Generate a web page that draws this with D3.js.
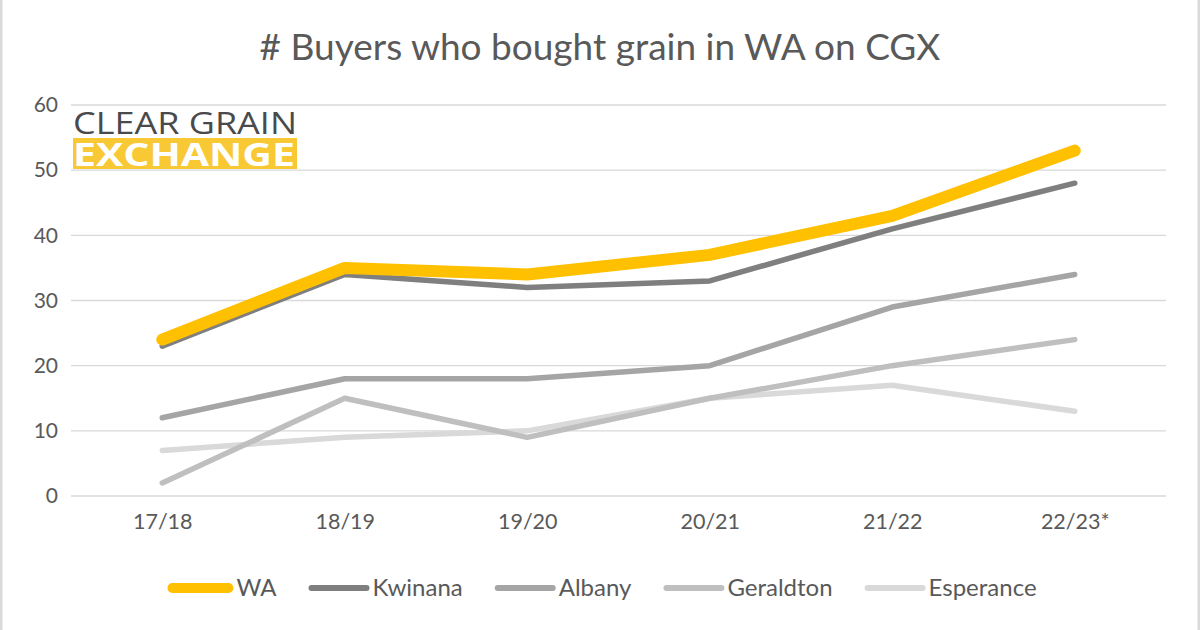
<!DOCTYPE html>
<html><head><meta charset="utf-8">
<script src="https://cdn.jsdelivr.net/npm/d3@7"></script>
<style>
html,body{margin:0;padding:0;background:#fff;}
svg{display:block;}
</style></head>
<body>
<svg id="chart" width="1200" height="630"></svg>
<script>
const categories = ["17/18","18/19","19/20","20/21","21/22","22/23*"];
const seriesNames = ["WA","Kwinana","Albany","Geraldton","Esperance"];
const waValues = [24, 35, 34, 37, 43, 53];
const kwinanaValues = [23, 34, 32, 33, 41, 48];
const albanyValues = [12, 18, 18, 20, 29, 34];
const geraldtonValues = [2, 15, 9, 15, 20, 24];
const esperanceValues = [7, 9, 10, 15, 17, 13];
const yTicks = [0, 10, 20, 30, 40, 50, 60];
const titleText = "# Buyers who bought grain in WA on CGX";

const series = [
  {name: seriesNames[0], values: waValues, color: "#FFC000", width: 12},
  {name: seriesNames[1], values: kwinanaValues, color: "#7F7F7F", width: 5.5},
  {name: seriesNames[2], values: albanyValues, color: "#A5A5A5", width: 5.5},
  {name: seriesNames[3], values: geraldtonValues, color: "#BFBFBF", width: 5.5},
  {name: seriesNames[4], values: esperanceValues, color: "#D9D9D9", width: 5.5}
];

const svg = d3.select("#chart");
const W = 1200, H = 630;
const font = "Lato, 'Open Sans', sans-serif";
const textColor = "#595959";

// border
svg.append("rect").attr("x",1).attr("y",-2).attr("width",W-2).attr("height",H+4)
  .attr("fill","#fff").attr("stroke","#d9d9d9").attr("stroke-width",3);

const plot = {left: 71, right: 1166, top: 105, bottom: 496};
const x = d3.scalePoint().domain(categories).range([plot.left, plot.right]).padding(0.5);
const y = d3.scaleLinear().domain([0, 60]).range([plot.bottom, plot.top]);

// gridlines
svg.append("g").selectAll("line").data(yTicks).join("line")
  .attr("x1", plot.left).attr("x2", plot.right)
  .attr("y1", d => y(d)).attr("y2", d => y(d))
  .attr("stroke", "#d9d9d9").attr("stroke-width", 1.3);

// y axis
const yAxis = svg.append("g").attr("transform", `translate(${plot.left - 13},0)`)
  .call(d3.axisLeft(y).tickValues(yTicks).tickSize(0).tickPadding(0));
yAxis.select(".domain").remove();
yAxis.selectAll("text").attr("font-family", font).attr("font-size", 21).attr("fill", textColor);

// x axis
const xAxis = svg.append("g").attr("transform", `translate(0,${plot.bottom + 17})`)
  .call(d3.axisBottom(x).tickSize(0).tickPadding(0));
xAxis.select(".domain").remove();
xAxis.selectAll("text").attr("font-family", font).attr("font-size", 21.5).attr("fill", textColor).attr("dy", "0.75em");

// logo
const logo = svg.append("g");
logo.append("text").attr("x", 73).attr("y", 134).attr("textLength", 224).attr("lengthAdjust", "spacingAndGlyphs")
  .attr("font-family", "'Open Sans', sans-serif").attr("font-size", 31).attr("fill", "#4a4a4c").text("CLEAR GRAIN");
logo.append("rect").attr("x", 73).attr("y", 138).attr("width", 224).attr("height", 31).attr("fill", "#F8C935");
logo.append("text").attr("x", 73).attr("y", 166).attr("textLength", 222).attr("lengthAdjust", "spacingAndGlyphs")
  .attr("font-family", "'Open Sans', sans-serif").attr("font-weight", 700).attr("font-size", 33).attr("fill", "#fff").text("EXCHANGE");

// title
svg.append("text").attr("x", 600).attr("y", 60).attr("text-anchor", "middle")
  .attr("font-family", font).attr("font-size", 37).attr("fill", textColor).text(titleText);

// lines (draw lightest first so WA on top)
const line = d3.line().x((d, i) => x(categories[i])).y(d => y(d));
svg.append("g").selectAll("path").data(series.slice().reverse()).join("path")
  .attr("d", d => line(d.values))
  .attr("fill", "none").attr("stroke", d => d.color).attr("stroke-width", d => d.width)
  .attr("stroke-linecap", "round").attr("stroke-linejoin", "round");

// legend
const legend = svg.append("g");
const items = [];
series.forEach(s => {
  const g = legend.append("g");
  const sw = s.name === "WA" ? 10 : 6;
  const len = s.name === "WA" ? 66 : 61;
  g.append("line").attr("x1", sw / 2).attr("x2", len - sw / 2).attr("y1", 0).attr("y2", 0)
    .attr("stroke", s.color).attr("stroke-width", sw).attr("stroke-linecap", "round");
  const t = g.append("text").attr("x", len + 3).attr("y", 0).attr("dy", "0.35em")
    .attr("font-family", font).attr("font-size", 24).attr("fill", textColor).text(s.name);
  const w = len + 3 + t.node().getComputedTextLength();
  items.push({g, w});
});
const gap = 32;
const total = d3.sum(items, d => d.w) + gap * (items.length - 1);
let cx = 602 - total / 2;
items.forEach(it => { it.g.attr("transform", `translate(${cx},588)`); cx += it.w + gap; });
</script>
</body></html>
